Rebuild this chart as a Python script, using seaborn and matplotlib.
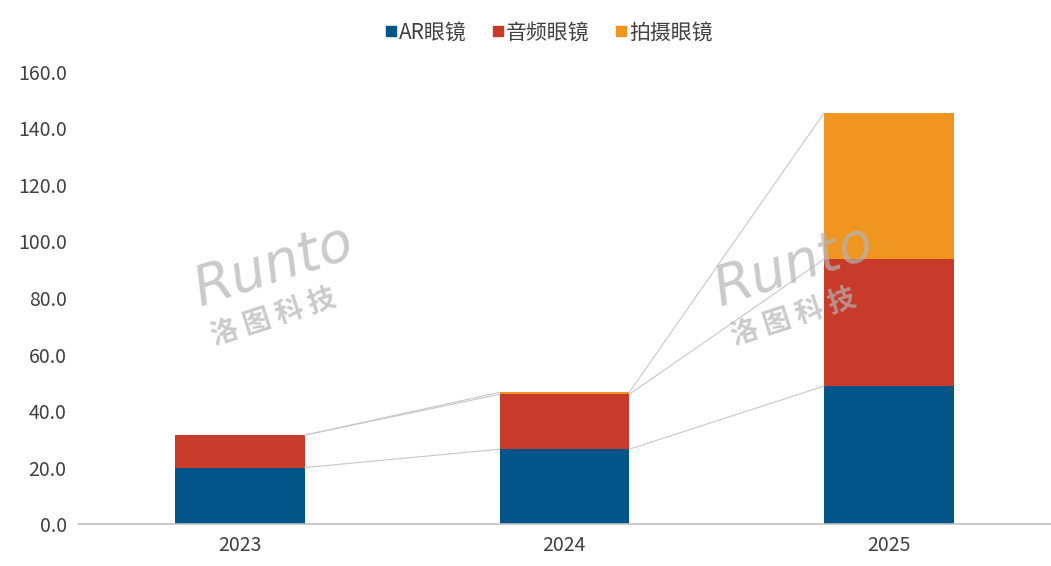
import matplotlib
matplotlib.use("Agg")
import numpy as np
import pandas as pd
import matplotlib.pyplot as plt
import seaborn as sns
from matplotlib.lines import Line2D

# Data
years = ["2023", "2024", "2025"]
ar_glasses = [20.0, 26.5, 48.8]
audio_glasses = [11.5, 19.4, 44.9]
camera_glasses = [0.0, 0.7, 51.7]
series_names = ["AR眼镜", "音频眼镜", "拍摄眼镜"]
colors = ["#045587", "#C83B2A", "#F0951F"]
yticks = [0, 20, 40, 60, 80, 100, 120, 140, 160]

sns.set_theme(style="white")
plt.rcParams["font.family"] = ["Noto Sans CJK SC", "DejaVu Sans"]

fig = plt.figure(figsize=(10.51, 5.66), dpi=100)
ax = fig.add_axes([0.074, 0.074, 0.926, 0.799])

series = [ar_glasses, audio_glasses, camera_glasses]
bar_w = 0.4
bottom = np.zeros(len(years))
tops = []
for name, vals, c in zip(series_names, series, colors):
    df = pd.DataFrame({"year": years, "value": vals})
    sns.barplot(data=df, x="year", y="value", color=c, width=bar_w,
                bottom=bottom.copy(), ax=ax, saturation=1, linewidth=0)
    bottom = bottom + np.array(vals)
    tops.append(bottom.copy())

# connector lines between stacked segment tops
xpos = np.arange(len(years))
for lvl in tops:
    for i in range(len(years) - 1):
        ax.plot([xpos[i] + bar_w / 2, xpos[i + 1] - bar_w / 2],
                [lvl[i], lvl[i + 1]], color="#c8c8c8", linewidth=0.8, zorder=1)

ax.set_xlim(-0.5, 2.5)
ax.set_ylim(0, 160)
ax.set_yticks(yticks)
ax.set_yticklabels([f"{v:.1f}" for v in yticks])
ax.set_xlabel("")
ax.set_ylabel("")
ax.tick_params(axis="both", labelsize=14, colors="#404040", length=0, pad=8)
for s in ["top", "right", "left"]:
    ax.spines[s].set_visible(False)
ax.spines["bottom"].set_color("#c0c0c0")
ax.spines["bottom"].set_linewidth(1.2)

handles = [Line2D([], [], marker="s", linestyle="", color=c, markersize=7)
           for c in colors]
fig.legend(handles, series_names, loc="center", bbox_to_anchor=(0.519, 0.943),
           ncol=3, frameon=False, fontsize=15, handletextpad=-0.2,
           handlelength=1.2, columnspacing=0.9, labelcolor="#404040")

# watermark
for wx in [0.26, 0.755]:
    fig.text(wx, 0.53, "Runto", fontsize=40, color="#b4b4b4", alpha=0.7,
             rotation=18, ha="center", va="center", style="italic",
             family="DejaVu Sans")
    fig.text(wx, 0.44, "洛 图 科 技", fontsize=20, color="#b4b4b4",
             alpha=0.7, rotation=18, ha="center", va="center",
             fontweight="bold")

plt.savefig("out.png", dpi=100)
